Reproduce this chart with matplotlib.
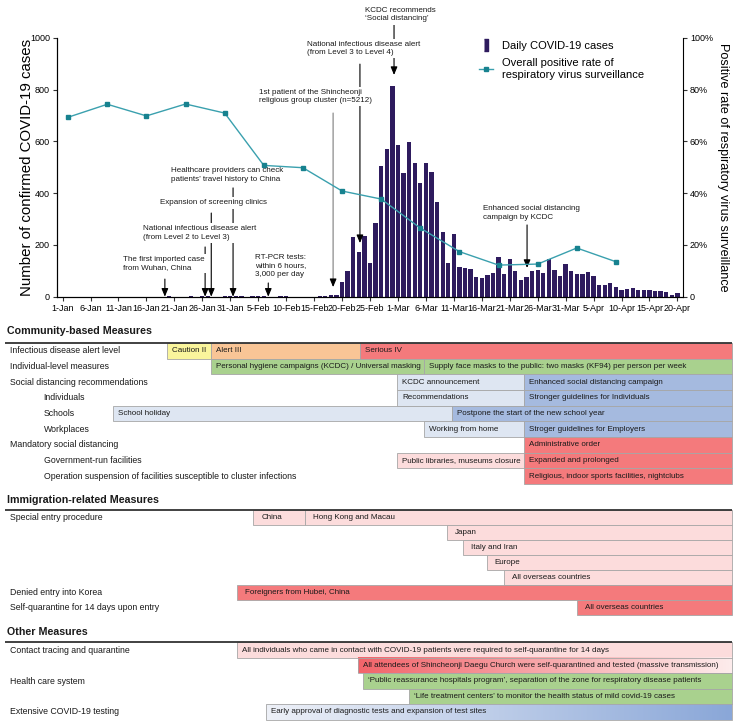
import numpy as np
import matplotlib.pyplot as plt
from matplotlib.lines import Line2D
from matplotlib.patches import Rectangle
from matplotlib.colors import LinearSegmentedColormap

plt.rcParams['font.family'] = ['Liberation Sans', 'DejaVu Sans']
plt.rcParams['axes.linewidth'] = 0.8

W, H = 739, 726

# day 0 = 1 January 2020
tick_days = list(range(0, 111, 5))
tick_labels = ['1-Jan', '6-Jan', '11-Jan', '16-Jan', '21-Jan', '26-Jan', '31-Jan',
               '5-Feb', '10-Feb', '15-Feb', '20-Feb', '25-Feb', '1-Mar', '6-Mar',
               '11-Mar', '16-Mar', '21-Mar', '26-Mar', '31-Mar', '5-Apr', '10-Apr',
               '15-Apr', '20-Apr']

# daily confirmed cases
early_days = [19, 23, 25, 26, 29, 30, 31, 32, 34, 35, 36, 39, 40, 46, 47]
early_cases = [1, 1, 1, 1, 3, 4, 1, 3, 1, 2, 4, 3, 1, 1, 1]
main_start = 48  # 18-Feb
main_cases = [6, 6, 58, 100, 229, 174, 234, 132, 283, 506,
              570, 813, 586, 476, 599, 516, 438, 518, 483, 367,
              248, 131, 242, 114, 110, 107, 76, 74, 84, 93,
              152, 87, 147, 98, 64, 76, 100, 104, 91, 146,
              105, 78, 125, 101, 89, 86, 94, 81, 47, 47,
              53, 39, 27, 30, 32, 25, 27, 27, 22, 22,
              18, 8, 13]

# weekly positive rate (%) of respiratory virus surveillance
rate_days = [1, 8, 15, 22, 29, 36, 43, 50, 57, 64, 71, 78, 85, 92, 99]
rate_values = [69.3, 74.3, 69.8, 74.4, 70.9, 50.7, 49.8, 40.8, 37.7, 26.5,
               17.4, 12.2, 12.6, 18.8, 13.5]

# annotations: text, arrow day, arrow start (cases), arrow end (cases)
ann_texts = ["The first imported case\nfrom Wuhan, China",
             "National infectious disease alert\n(from Level 2 to Level 3)",
             "Expansion of screening clinics",
             "Healthcare providers can check\npatients\u2019 travel history to China",
             "RT-PCR tests:\nwithin 6 hours,\n3,000 per day",
             "1st patient of the Shincheonji\nreligious group cluster (n=5212)",
             "National infectious disease alert\n(from Level 3 to Level 4)",
             "KCDC recommends\n\u2018Social distancing\u2019",
             "Enhanced social distancing\ncampaign by KCDC"]
ann_days = [18.3, 25.5, 26.6, 30.5, 36.8, 48.4, 53.2, 59.3, 83.1]
ann_from = [68, 192, 323, 420, 53, 709, 898, 1049, 277]
ann_to = [0, 0, 0, 0, 0, 37, 207, 856, 111]
# text anchor (left, centre-y) in pixels
ann_pos = [(123, 263.5), (143, 233), (160, 203), (171, 175), (255, 266),
           (259, 96.5), (307, 48.5), (365, 14.8), (483, 213)]

bar_color = '#2e1b5e'
line_color = '#3aa0ae'
marker_color = '#17828f'

fig = plt.figure(figsize=(W / 100, H / 100), dpi=100)

ax_l, ax_r, ax_t, ax_b = 57, 683, 37.7, 296.7
ax = fig.add_axes([ax_l / W, 1 - ax_b / H, (ax_r - ax_l) / W, (ax_b - ax_t) / H])
x_min, x_max = -1, 111
days_per_px = (x_max - x_min) / (ax_r - ax_l)


def px2day(px):
    return x_min + (px - ax_l) * days_per_px


days = early_days + list(range(main_start, main_start + len(main_cases)))
cases = early_cases + main_cases
ax.bar(days, cases, width=0.77, color=bar_color, zorder=2)
ax.set_xlim(x_min, x_max)
ax.set_ylim(0, 1000)
ax.set_yticks(range(0, 1001, 200))
ax.set_xticks(tick_days)
ax.set_xticklabels(tick_labels, fontsize=6.5)
ax.tick_params(axis='both', length=3, width=0.8, pad=2, labelsize=6.5, color='#333333')
ax.spines['top'].set_visible(False)
ax.spines['right'].set_visible(False)
ax.set_ylabel('Number of confirmed COVID-19 cases', fontsize=10.8)
ax.yaxis.set_label_coords(-0.037, 0.5)

ax2 = ax.twinx()
ax2.plot(rate_days, rate_values, color=line_color, lw=1, marker='s', ms=3.5,
         mfc=marker_color, mec=marker_color, zorder=8)
ax2.set_ylim(0, 100)
ax2.set_yticks(range(0, 101, 20))
ax2.set_yticklabels(['0', '20%', '40%', '60%', '80%', '100%'])
ax2.tick_params(axis='y', length=3, width=0.8, pad=2, labelsize=6.5, color='#333333')
ax2.spines['top'].set_visible(False)
ax2.set_ylabel('Positive rate of respiratory virus surveillance', fontsize=9.1,
               rotation=270, labelpad=3, va='bottom')

bar_marker = [(-0.35, -1), (0.35, -1), (0.35, 1), (-0.35, 1)]
handles = [Line2D([], [], ls='none', marker=bar_marker, ms=9, color=bar_color),
           Line2D([], [], color=line_color, lw=1, marker='s', ms=3.5,
                  mfc=marker_color, mec=marker_color)]
ax2.legend(handles, ['Daily COVID-19 cases',
                     'Overall positive rate of\nrespiratory virus surveillance'],
           loc='upper left', bbox_to_anchor=(0.674, 0.987), frameon=False,
           fontsize=8, handlelength=1.3, handletextpad=0.8, labelspacing=0.62,
           borderpad=0, borderaxespad=0)

# arrows and texts
for i, txt in enumerate(ann_texts):
    d = ann_days[i]
    if i == 5:
        ax2.annotate('', xy=(d, 60), xytext=(d, ann_from[i]), xycoords=ax.transData,
                     textcoords=ax.transData, zorder=4,
                     arrowprops=dict(arrowstyle='-', color='#8c8c8c', lw=0.9,
                                     shrinkA=0, shrinkB=0), annotation_clip=False)
        start = 62
    else:
        start = ann_from[i]
    ax2.annotate('', xy=(d, ann_to[i]), xytext=(d, start), xycoords=ax.transData,
                 textcoords=ax.transData, zorder=4,
                 arrowprops=dict(arrowstyle='-|>,head_length=0.6,head_width=0.25',
                                 color='black', lw=0.8, mutation_scale=8,
                                 shrinkA=0, shrinkB=0), annotation_clip=False)
    x, y = ann_pos[i]
    ax2.text(x / W, 1 - y / H, txt, transform=fig.transFigure, ha='left',
             va='center', fontsize=5.8, color='#1a1a1a', linespacing=1.25,
             bbox=dict(fc='white', ec='none', pad=1.5), zorder=6, clip_on=False)

# ---------------- measures table ----------------
colors = {'yellow': '#faf59c', 'orange': '#f9c596', 'red': '#f47a7c',
          'green': '#a9d18e', 'lightblue': '#dee6f2', 'blue': '#a5badf',
          'pink': '#fcdcdc'}
fades = {'redfade': ['#f2646a', '#fdecec'], 'bluefade': ['#eef1f8', '#8aa7d8']}

community_labels = ["Infectious disease alert level", "Individual-level measures",
                    "Social distancing recommendations", "Individuals", "Schools",
                    "Workplaces", "Mandatory social distancing",
                    "Government-run facilities",
                    "Operation suspension of facilities susceptible to cluster infections"]
community_indent = [0, 0, 0, 1, 1, 1, 0, 1, 1]
community_cells = [
    (0, 18.6, 26.5, "Caution II", 'yellow'),
    (0, 26.5, 53.2, "Alert III", 'orange'),
    (0, 53.2, 119.7, "Serious IV", 'red'),
    (1, 26.5, 64.7, "Personal hygiene campaigns (KCDC) / Universal masking", 'green'),
    (1, 64.7, 119.7, "Supply face masks to the public: two masks (KF94) per person per week", 'green'),
    (2, 59.9, 82.6, "KCDC announcement", 'lightblue'),
    (2, 82.6, 119.7, "Enhanced social distancing campaign", 'blue'),
    (3, 59.9, 82.6, "Recommendations", 'lightblue'),
    (3, 82.6, 119.7, "Stronger guidelines for Individuals", 'blue'),
    (4, 9.1, 69.7, "School holiday", 'lightblue'),
    (4, 69.7, 119.7, "Postpone the start of the new school year", 'blue'),
    (5, 64.7, 82.6, "Working from home", 'lightblue'),
    (5, 82.6, 119.7, "Stroger guidelines for Employers", 'blue'),
    (6, 82.6, 119.7, "Administrative order", 'red'),
    (7, 59.9, 82.6, "Public libraries, museums closure", 'pink'),
    (7, 82.6, 119.7, "Expanded and prolonged", 'red'),
    (8, 82.6, 119.7, "Religious, indoor sports facilities, nightclubs", 'red'),
]

immigration_labels = ["Special entry procedure", "", "", "", "",
                      "Denied entry into Korea", "Self-quarantine for 14 days upon entry"]
immigration_indent = [0] * 7
immigration_cells = [
    (0, 34.1, 43.4, "China", 'pink'),
    (0, 43.4, 119.7, "Hong Kong and Macau", 'pink'),
    (1, 68.7, 119.7, "Japan", 'pink'),
    (2, 71.7, 119.7, "Italy and Iran", 'pink'),
    (3, 75.9, 119.7, "Europe", 'pink'),
    (4, 78.9, 119.7, "All overseas countries", 'pink'),
    (5, 31.2, 119.7, "Foreigners from Hubei, China", 'red'),
    (6, 92.1, 119.7, "All overseas countries", 'red'),
]

other_labels = ["Contact tracing and quarantine", "", "Health care system", "",
                "Extensive COVID-19 testing"]
other_indent = [0] * 5
other_cells = [
    (0, 31.2, 119.7, "All individuals who came in contact with COVID-19 patients were required to self-quarantine for 14 days", 'pink'),
    (1, 52.9, 119.7, "All attendees of Shincheonji Daegu Church were self-quarantined and tested (massive transmission)", 'redfade'),
    (2, 53.8, 119.7, "\u2018Public reassurance hospitals program\u2019, separation of the zone for respiratory disease patients", 'green'),
    (3, 62.0, 119.7, "\u2018Life treatment centers\u2019 to monitor the health status of mild covid-19 cases", 'green'),
    (4, 36.4, 119.7, "Early approval of diagnostic tests and expansion of test sites", 'bluefade'),
]

sections = [
    ("Community-based Measures", community_labels, community_indent, community_cells),
    ("Immigration-related Measures", immigration_labels, immigration_indent, immigration_cells),
    ("Other Measures", other_labels, other_indent, other_cells),
]
# header y, rule y, row height, text pad (px)
section_layout = [(331.5, 343, 15.67, 5), (500, 509.7, 15.05, 8), (631.7, 642.3, 15.48, 5)]

tax = fig.add_axes([0, 0, 1, 1 - 310 / H])
tax.set_xlim(px2day(0), px2day(W))
tax.set_ylim(H, 310)
tax.axis('off')

for (title, labels, indent, cells), (hy, ly, rh, pad) in zip(sections, section_layout):
    tax.text(px2day(7), hy, title, fontsize=7.7, fontweight='bold', va='center',
             color='#1a1a1a')
    tax.plot([px2day(5), px2day(732)], [ly, ly], color='#333333', lw=1.3,
             solid_capstyle='butt', zorder=5)
    for i, lab in enumerate(labels):
        if lab:
            lx = px2day(10) if indent[i] == 0 else px2day(43.7)
            tax.text(lx, ly + (i + 0.5) * rh, lab, fontsize=6.3, va='center',
                     color='#1a1a1a')
    for row, x0, x1, txt, c in cells:
        y0 = ly + row * rh
        if c in fades:
            cmap = LinearSegmentedColormap.from_list(c, fades[c])
            tax.imshow(np.linspace(0, 1, 256)[None, :], cmap=cmap, aspect='auto',
                       extent=(x0, x1, y0 + rh, y0), zorder=1)
            tax.add_patch(Rectangle((x0, y0), x1 - x0, rh, fill=False,
                                    ec='#a6a6a6', lw=0.6, zorder=2))
        else:
            tax.add_patch(Rectangle((x0, y0), x1 - x0, rh, fc=colors[c],
                                    ec='#a6a6a6', lw=0.6, zorder=1))
        tax.text(x0 + pad * days_per_px, y0 + rh / 2, txt, fontsize=5.75,
                 va='center', color='#1a1a1a', zorder=3)

tax.set_xlim(px2day(0), px2day(W))
tax.set_ylim(H, 310)

fig.savefig('out.png', dpi=100)
